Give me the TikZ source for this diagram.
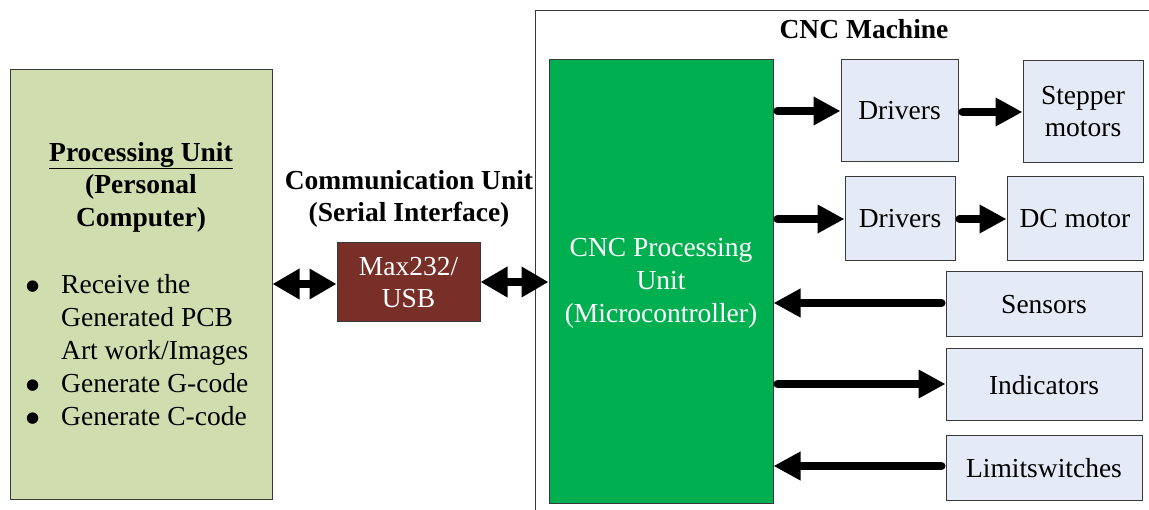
\documentclass[tikz,border=0pt]{standalone}
\usepackage{fontspec}
\setmainfont{Liberation Serif}
\newfontfamily\symfont{DejaVu Sans}
\usetikzlibrary{arrows.meta}
\definecolor{pcgreen}{HTML}{D0DEAF}
\definecolor{maxred}{HTML}{772F28}
\definecolor{cncgreen}{HTML}{00B050}
\definecolor{lightblue}{HTML}{E4EBF6}
\definecolor{edgegray}{HTML}{3A3A3A}
\newcommand{\bulletmark}{\makebox[35pt][l]{\raisebox{3pt}[0pt][0pt]{\fontsize{15}{15}\symfont ●}}}
\begin{document}
\begin{tikzpicture}[x=1pt,y=-1pt,
  every node/.style={font=\fontsize{27.5}{32.5}\selectfont, inner sep=0pt},
  blockbox/.style={draw=edgegray, line width=1pt, rectangle, align=center},
  pcbox/.style={blockbox, fill=pcgreen},
  maxbox/.style={blockbox, fill=maxred, text=white},
  cncbox/.style={blockbox, fill=cncgreen, text=white, font=\fontsize{27.5}{33}\selectfont},
  partbox/.style={blockbox, fill=lightblue},
  onearrow/.style={line width=8pt, line cap=round, shorten <=4pt,
    -{Triangle[length=27pt,width=27pt]}},
  twoarrow/.style={line width=8pt,
    {Triangle[length=27pt,width=29pt]}-{Triangle[length=27pt,width=29pt]}},
  frameline/.style={draw=edgegray, line width=1pt}
]
\useasboundingbox (0,0) rectangle (1149,510);

% CNC machine frame
\coordinate (frameBL) at (535,510);
\coordinate (frameTL) at (535,11);
\coordinate (frameTR) at (1149,11);
\draw[frameline] (frameBL) -- (frameTL) -- (frameTR);
\node[anchor=base] (cnctitle) at (864,39) {\textbf{CNC Machine}};

% Processing unit
\node[pcbox, minimum width=262pt, minimum height=429pt] (pc) at (141,284.5) {};
\node[align=center] (pctitle) at (141,187)
  {\textbf{\underline{Processing Unit}}\\\textbf{(Personal}\\\textbf{Computer)}};
\node[align=left, anchor=west, font=\fontsize{27.5}{33}\selectfont] (pclist) at (26,350.5)
  {\bulletmark Receive the\\
   \hspace*{35pt}Generated PCB\\
   \hspace*{35pt}Art work/Images\\
   \bulletmark Generate G-code\\
   \bulletmark Generate C-code};

% Communication unit
\node[align=center] (commtitle) at (409,199)
  {\textbf{Communication Unit}\\\textbf{(Serial Interface)}};
\node[maxbox, minimum width=143pt, minimum height=79pt] (max) at (408.5,282.5)
  {Max232/\\USB};

% CNC processing unit
\node[cncbox, minimum width=224pt, minimum height=443pt] (cnc) at (661,281.5) {};
\node[align=center, text=white, font=\fontsize{27.5}{33}\selectfont] (cnctext) at (661,283.5)
  {CNC Processing\\Unit\\(Microcontroller)};

% Peripheral blocks
\node[partbox, minimum width=117pt, minimum height=102pt] (drv1) at (899.5,111) {Drivers};
\node[partbox, minimum width=120pt, minimum height=102pt] (step) at (1083,111.5) {Stepper\\motors};
\node[partbox, minimum width=110pt, minimum height=84pt] (drv2) at (900,219) {Drivers};
\node[partbox, minimum width=136pt, minimum height=84pt] (dc) at (1075,219) {DC motor};
\node[partbox, minimum width=196pt, minimum height=65pt] (sens) at (1044,304.5) {Sensors};
\node[partbox, minimum width=196pt, minimum height=72pt] (ind) at (1044,385) {Indicators};
\node[partbox, minimum width=196pt, minimum height=64pt] (lim) at (1044,468) {Limitswitches};

% Connectors
\draw[twoarrow] (max.west -| pc.east) ++(0,1.5) coordinate (pcR) (pcR) -- (pcR -| max.west);
\draw[twoarrow] (max.east) ++(0,-0.5) coordinate (maxR) (maxR) -- (maxR -| cnc.west);
\draw[onearrow] (drv1.west -| cnc.east) -- (drv1.west);
\draw[onearrow] (drv1.east) ++(0,1) coordinate (drvA) (drvA) -- (drvA -| step.west);
\draw[onearrow] (drv2.west -| cnc.east) -- (drv2.west);
\draw[onearrow] (drv2.east) -- (dc.west);
\draw[onearrow] (sens.west) ++(0,-1.5) coordinate (sensL) (sensL) -- (sensL -| cnc.east);
\draw[onearrow] (ind.west -| cnc.east) ++(0,-1) coordinate (cncI) (cncI) -- (cncI -| ind.west);
\draw[onearrow] (lim.west) ++(0,-2) coordinate (limL) (limL) -- (limL -| cnc.east);
\end{tikzpicture}
\end{document}
